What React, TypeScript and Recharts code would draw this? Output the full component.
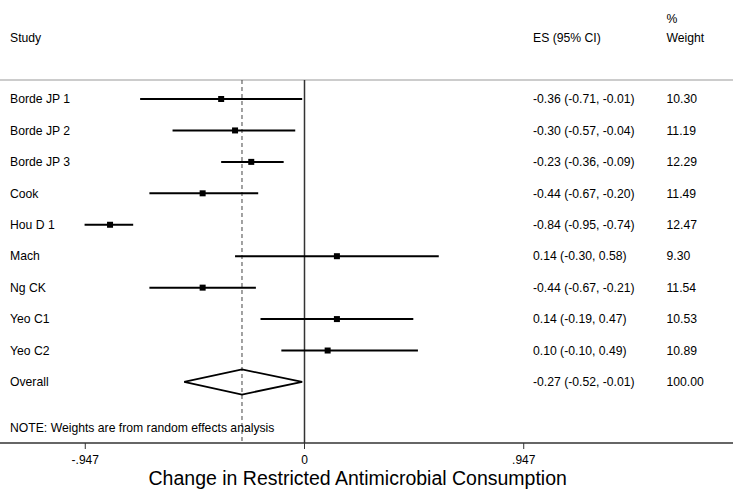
import React from 'react';
import { ComposedChart, XAxis, YAxis, Scatter, ReferenceLine } from 'recharts';

const studies = ['Borde JP 1', 'Borde JP 2', 'Borde JP 3', 'Cook', 'Hou D 1', 'Mach', 'Ng CK', 'Yeo C1', 'Yeo C2'];
const esValues = [-0.36, -0.30, -0.23, -0.44, -0.84, 0.14, -0.44, 0.14, 0.10];
const ciLow = [-0.71, -0.57, -0.36, -0.67, -0.95, -0.30, -0.67, -0.19, -0.10];
const ciHigh = [-0.01, -0.04, -0.09, -0.20, -0.74, 0.58, -0.21, 0.47, 0.49];
const weights = ['10.30', '11.19', '12.29', '11.49', '12.47', '9.30', '11.54', '10.53', '10.89'];
const overallLabel = 'Overall';
const overallES = -0.27;
const overallLow = -0.52;
const overallHigh = -0.01;
const overallWeight = '100.00';
const xTicks = [-0.947, 0, 0.947];
const tickLabels = ['-.947', '0', '.947'];
const note = 'NOTE: Weights are from random effects analysis';
const axisTitle = 'Change in Restricted Antimicrobial Consumption';

// layout constants
const W = 733;
const H = 489;
const ZERO_PX = 304.5;
const PX_PER_UNIT = 231.5;
const X_MIN = -ZERO_PX / PX_PER_UNIT;
const X_MAX = (W - ZERO_PX) / PX_PER_UNIT;
const ROW_PX = 31.44;
const FIRST_ROW_PX = 99;
const PLOT_BOTTOM = 443;
const Y_MIN = 1 - FIRST_ROW_PX / ROW_PX;
const Y_MAX = 1 + (PLOT_BOTTOM - FIRST_ROW_PX) / ROW_PX;
const rowAt = (px: number) => 1 + (px - FIRST_ROW_PX) / ROW_PX;
const xAt = (px: number) => (px - ZERO_PX) / PX_PER_UNIT;
const TOP_LINE = rowAt(80);
const HEADER_ROW = rowAt(38);
const PCT_ROW = rowAt(19);
const NOTE_ROW = rowAt(428);
const COL_STUDY = xAt(10);
const COL_ES = xAt(533);
const COL_WT = xAt(666.5);
const OVERALL_ROW = studies.length + 1;
const DIAMOND_H = 0.4;

const f2 = (v: number) => v.toFixed(2);
const esText = (e: number, l: number, h: number) => `${f2(e)} (${f2(l)}, ${f2(h)})`;

const pointData = studies.map((s, i) => ({ x: esValues[i], y: i + 1 }));

const textData = [
  { x: COL_STUDY, y: HEADER_ROW, t: 'Study' },
  { x: COL_ES, y: HEADER_ROW, t: 'ES (95% CI)' },
  { x: COL_WT, y: HEADER_ROW, t: 'Weight' },
  { x: COL_WT, y: PCT_ROW, t: '%' },
  ...studies.flatMap((s, i) => [
    { x: COL_STUDY, y: i + 1, t: s },
    { x: COL_ES, y: i + 1, t: esText(esValues[i], ciLow[i], ciHigh[i]) },
    { x: COL_WT, y: i + 1, t: weights[i] },
  ]),
  { x: COL_STUDY, y: OVERALL_ROW, t: overallLabel },
  { x: COL_ES, y: OVERALL_ROW, t: esText(overallES, overallLow, overallHigh) },
  { x: COL_WT, y: OVERALL_ROW, t: overallWeight },
  { x: COL_STUDY, y: NOTE_ROW, t: note },
];

const diamondData = [
  { x: overallLow, y: OVERALL_ROW },
  { x: overallES, y: OVERALL_ROW - DIAMOND_H },
  { x: overallHigh, y: OVERALL_ROW },
  { x: overallES, y: OVERALL_ROW + DIAMOND_H },
  { x: overallLow, y: OVERALL_ROW },
];

const FONT = '"Liberation Sans", Arial, Helvetica, sans-serif';

const TextShape = (p: any) => (
  <text
    x={p.cx}
    y={p.cy}
    dy="0.35em"
    fontSize={12.2}
    fontFamily={FONT}
    fill="#000"
    textAnchor="start"
  >
    {p.payload.t}
  </text>
);

const SquareShape = (p: any) => (
  <rect x={p.cx - 3} y={p.cy - 3} width={6} height={6} fill="#000" />
);

const NoShape = () => <g />;

const AxisTitle = (p: any) => {
  const vb = p.viewBox || { x: 0, y: PLOT_BOTTOM, width: W, height: H - PLOT_BOTTOM };
  return (
    <text
      x={vb.x + vb.width * 0.488}
      y={vb.y + 41.5}
      textAnchor="middle"
      fontSize={19.5}
      fontFamily={FONT}
      fill="#000"
    >
      {axisTitle}
    </text>
  );
};

export default function App() {
  return (
    <div style={{ position: 'absolute', left: 0, top: 0, width: W, height: H, background: '#fff' }}>
      <ComposedChart width={W} height={H} margin={{ top: 0, right: 0, bottom: 0, left: 0 }}>
        <XAxis
          type="number"
          dataKey="x"
          domain={[X_MIN, X_MAX]}
          allowDataOverflow
          ticks={xTicks}
          tickFormatter={(v: number) => tickLabels[xTicks.indexOf(v)] ?? String(v)}
          tick={{ fontSize: 12, fill: '#000', fontFamily: FONT }}
          tickSize={6}
          tickMargin={6}
          axisLine={{ stroke: '#333', strokeWidth: 1.5 }}
          tickLine={{ stroke: '#333', strokeWidth: 1 }}
          height={H - PLOT_BOTTOM}
          label={<AxisTitle />}
        />
        <YAxis type="number" dataKey="y" domain={[Y_MIN, Y_MAX]} allowDataOverflow reversed hide width={0} />
        <ReferenceLine
          segment={[{ x: X_MIN, y: TOP_LINE }, { x: X_MAX, y: TOP_LINE }]}
          stroke="#999"
          strokeWidth={1.2}
        />
        <ReferenceLine
          segment={[{ x: 0, y: TOP_LINE }, { x: 0, y: Y_MAX }]}
          stroke="#333"
          strokeWidth={1.5}
        />
        <ReferenceLine
          segment={[{ x: overallES, y: TOP_LINE }, { x: overallES, y: Y_MAX }]}
          stroke="#444"
          strokeWidth={1}
          strokeDasharray="4 3"
        />
        {studies.map((s, i) => (
          <ReferenceLine
            key={s}
            segment={[{ x: ciLow[i], y: i + 1 }, { x: ciHigh[i], y: i + 1 }]}
            stroke="#000"
            strokeWidth={2}
          />
        ))}
        <Scatter data={pointData} shape={<SquareShape />} isAnimationActive={false} />
        <Scatter
          data={diamondData}
          shape={<NoShape />}
          line={{ stroke: '#000', strokeWidth: 1.8 }}
          lineType="joint"
          isAnimationActive={false}
        />
        <Scatter data={textData} shape={<TextShape />} isAnimationActive={false} />
      </ComposedChart>
    </div>
  );
}
